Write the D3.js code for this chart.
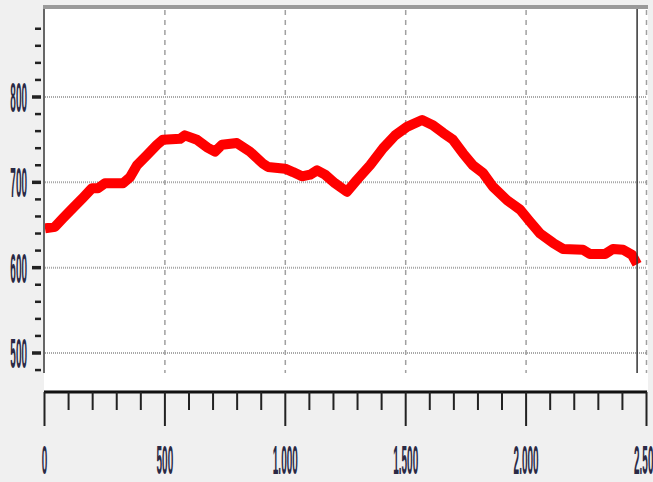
<!DOCTYPE html>
<html><head><meta charset="utf-8">
<script src="https://cdn.jsdelivr.net/npm/d3@7"></script>
<style>html,body{margin:0;padding:0;background:#f0f0f0;overflow:hidden}</style>
</head><body>
<svg id="c" width="653" height="482"></svg>
<script>
const xs = [2,44,77,118,160,197,222,251,326,355,384,426,467,492,563,583,633,675,708,737,799,853,907,928,999,1032,1069,1103,1132,1165,1206,1256,1298,1352,1406,1456,1505,1568,1613,1655,1696,1738,1779,1821,1862,1921,1975,2016,2058,2112,2153,2236,2265,2328,2361,2403,2440,2461];
const ys = [646,648,658,670,682,693,693,699,699,706,720,732,744,750,751,755,750,741,736,744,746,736,722,718,716,712,707,709,714,709,699,689,703,720,740,755,765,773,767,758,750,734,720,711,695,679,668,654,640,629,622,621,616,616,622,621,615,604];
const xMajor = [0,500,1000,1500,2000,2500];
const xMinor = d3.range(0,2501,100);
const yMajor = [500,600,700,800];
const yMinor = d3.range(480,881,20);

const svg = d3.select("#c");
const x = d3.scaleLinear().domain([0,2500]).range([44.5,646.5]);
const y = d3.scaleLinear().domain([500,800]).range([353,97]);
const loc = d3.formatLocale({decimal:",",thousands:".",grouping:[3],currency:["",""]});
const fmt = loc.format(",d");

// plot background
svg.append("rect").attr("x",44).attr("y",8).attr("width",604).attr("height",382).attr("fill","#fff");
// top bar
svg.append("rect").attr("x",43).attr("y",5).attr("width",605).attr("height",4).attr("fill","#9a9a9a");

// gridlines
svg.append("g").selectAll("line").data(yMajor).join("line")
  .attr("x1",45).attr("x2",646).attr("y1",d=>y(d)).attr("y2",d=>y(d))
  .attr("stroke","#a8a8a8").attr("stroke-width",2).attr("stroke-dasharray","1,1");
svg.append("g").selectAll("line").data(xMajor.slice(1)).join("line")
  .attr("x1",d=>x(d)).attr("x2",d=>x(d)).attr("y1",10).attr("y2",373)
  .attr("stroke","#a0a0a0").attr("stroke-width",1.5).attr("stroke-dasharray","5,5");

// data line
const pts = xs.map((v,i)=>[v,ys[i]]);
svg.append("path").datum(pts)
  .attr("d",d3.line().x(d=>x(d[0])).y(d=>y(d[1])))
  .attr("fill","none").attr("stroke","#ff0000").attr("stroke-width",10)
  .attr("stroke-linejoin","round").attr("stroke-linecap","butt");

// cursor line at end of data
svg.append("line").attr("x1",x(xs[xs.length-1])).attr("x2",x(xs[xs.length-1]))
  .attr("y1",9).attr("y2",373).attr("stroke","#333").attr("stroke-width",1.5);

// left axis line
svg.append("line").attr("x1",44).attr("x2",44).attr("y1",9).attr("y2",373)
  .attr("stroke","#666").attr("stroke-width",2);
// y ticks
svg.append("g").selectAll("line").data(yMinor).join("line")
  .attr("x1",d=>yMajor.includes(d)?32:35).attr("x2",41)
  .attr("y1",d=>y(d)).attr("y2",d=>y(d))
  .attr("stroke","#222").attr("stroke-width",d=>yMajor.includes(d)?3.5:2.5);
// y labels
svg.append("g").selectAll("text").data(yMajor).join("text")
  .attr("transform",d=>`translate(27,${y(d)+15}) scale(0.5,2.1)`)
  .attr("text-anchor","end")
  .attr("font-family","Liberation Sans, Arial, sans-serif").attr("font-size",20).attr("font-weight","bold")
  .attr("fill","#2a2a45").text(d=>fmt(d));

// x axis
svg.append("line").attr("x1",44).attr("x2",647).attr("y1",392).attr("y2",392)
  .attr("stroke","#111").attr("stroke-width",3);
svg.append("g").selectAll("line").data(xMinor).join("line")
  .attr("x1",d=>x(d)).attr("x2",d=>x(d)).attr("y1",392)
  .attr("y2",d=>xMajor.includes(d)?426:410)
  .attr("stroke","#222").attr("stroke-width",2);
svg.append("g").selectAll("text").data(xMajor).join("text")
  .attr("transform",d=>`translate(${x(d)},474) scale(0.5,2.0)`)
  .attr("text-anchor","middle")
  .attr("font-family","Liberation Sans, Arial, sans-serif").attr("font-size",20).attr("font-weight","bold")
  .attr("fill","#2a2a45").text(d=>fmt(d));
</script>
</body></html>
